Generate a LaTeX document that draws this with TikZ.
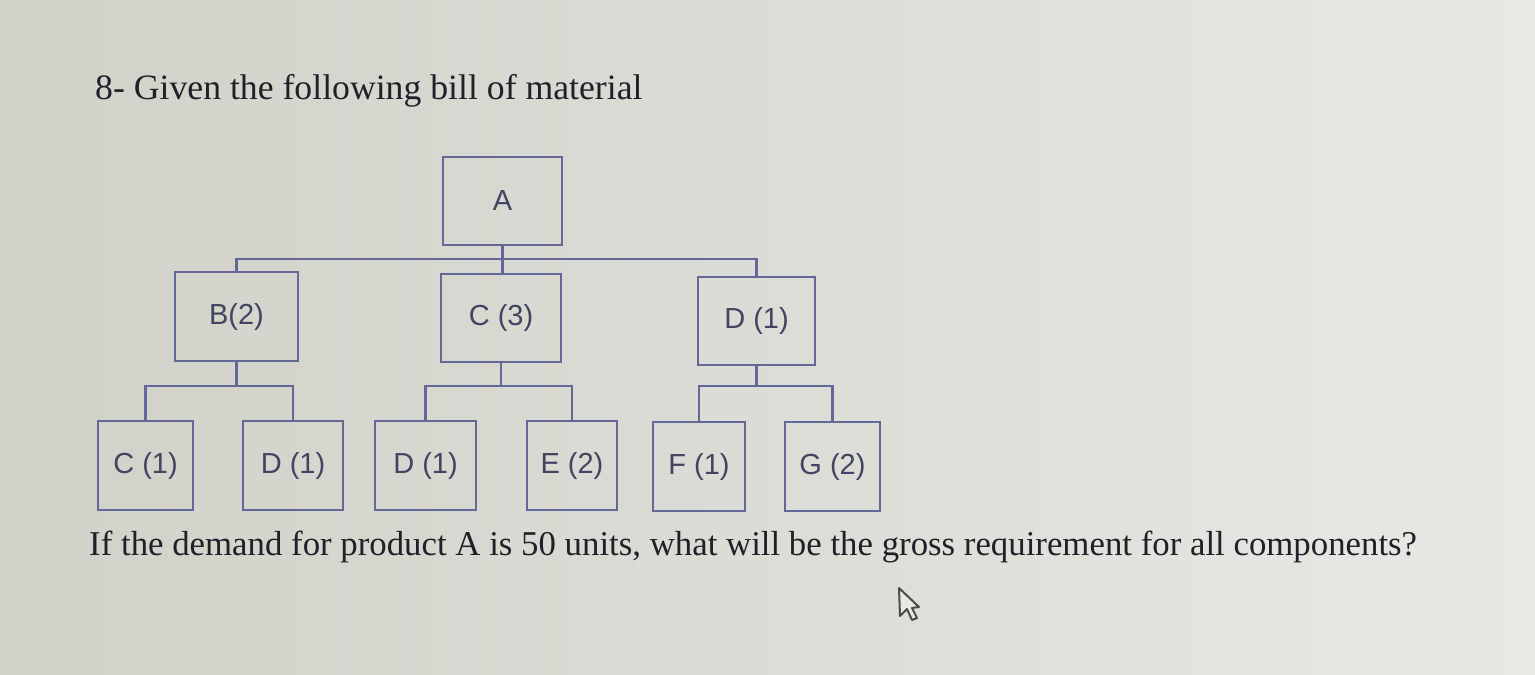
\documentclass[tikz,border=0pt]{standalone}
\usepackage{fontspec}
\setmainfont{Liberation Serif}
\newfontfamily\boxfont{Liberation Sans}
\definecolor{bgL}{RGB}{208,209,200}
\definecolor{bgR}{RGB}{232,232,229}
\definecolor{linec}{RGB}{100,104,150}
\definecolor{labc}{RGB}{66,69,98}
\definecolor{txtc}{RGB}{32,32,40}
\begin{document}
\begin{tikzpicture}[x=1pt,y=-1pt,
  bomitem/.style={draw=linec, line width=2.8pt, inner sep=0pt, text=labc,
    font=\boxfont\fontsize{29}{30}\selectfont},
  link/.style={draw=linec, line width=2.8pt},
  qtext/.style={anchor=base west, inner sep=0pt, text=txtc}]
\shade[left color=bgL, right color=bgR] (0,0) rectangle (1535,675);
\useasboundingbox (0,0) rectangle (1535,675);

\node[qtext, font=\fontsize{35.7}{40}\selectfont] (title) at (95,99) {8- Given the following bill of material};
\node[qtext, font=\fontsize{34.8}{40}\selectfont] (question) at (89,555) {If the demand for product A is 50 units, what will be the gross requirement for all components?};

\node[bomitem, minimum width=119pt, minimum height=88pt] (A) at (502.5,201) {A};
\node[bomitem, minimum width=123pt, minimum height=89pt] (B) at (236.5,316.5) {B(2)};
\node[bomitem, minimum width=120pt, minimum height=88pt] (C) at (501,318) {C (3)};
\node[bomitem, minimum width=117pt, minimum height=88pt] (D) at (756.5,321) {D (1)};

\node[bomitem, minimum width=95pt, minimum height=89pt] (BC) at (145.5,465.5) {C (1)};
\node[bomitem, minimum width=100pt, minimum height=89pt] (BD) at (293,465.5) {D (1)};
\node[bomitem, minimum width=101pt, minimum height=89pt] (CD) at (425.5,465.5) {D (1)};
\node[bomitem, minimum width=90pt, minimum height=89pt] (CE) at (572,465.5) {E (2)};
\node[bomitem, minimum width=92pt, minimum height=89pt] (DF) at (699,466.5) {F (1)};
\node[bomitem, minimum width=95pt, minimum height=89pt] (DG) at (832.5,466.5) {G (2)};

\coordinate (bus0) at (0,259);
\coordinate (bus1) at (0,386);

% level 0 -> 1
\draw[link] (A.south) -- (A.south |- C.north);
\draw[link] (B.north) -- (B.north |- bus0) -- (D.north |- bus0) -- (D.north);
% B children
\draw[link] (B.south) -- (B.south |- bus1);
\draw[link] (BC.north) -- (BC.north |- bus1) -- (BD.north |- bus1) -- (BD.north);
% C children
\draw[link] (C.south) -- (C.south |- bus1);
\draw[link] (CD.north) -- (CD.north |- bus1) -- (CE.north |- bus1) -- (CE.north);
% D children
\draw[link] (D.south) -- (D.south |- bus1);
\draw[link] (DF.north) -- (DF.north |- bus1) -- (DG.north |- bus1) -- (DG.north);

% mouse cursor
\draw[draw=black!70, line width=2pt, fill=bgR, line join=round]
  (899,588) -- (900,616) -- (907,609) -- (912,620) -- (917,618) -- (912,608) -- (919,607) -- cycle;
\end{tikzpicture}
\end{document}
